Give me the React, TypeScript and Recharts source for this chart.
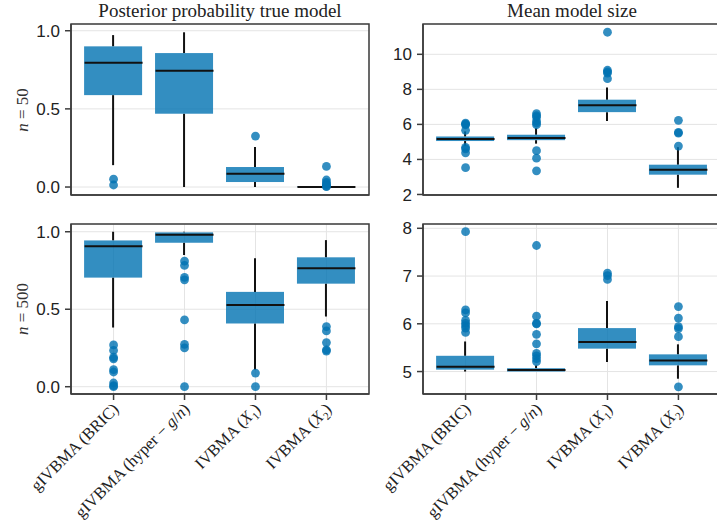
import { ComposedChart, Bar, Scatter, XAxis, YAxis, CartesianGrid, ReferenceArea } from 'recharts';

// categories sit at x = 1..4
const positions = [1, 2, 3, 4];
const xDomain: [number, number] = [0.4, 4.6];
const categoryLabels = [
  [{ t: 'gIVBMA (BRIC)' }],
  [{ t: 'gIVBMA (hyper − ' }, { t: 'g', i: true }, { t: '/' }, { t: 'n', i: true }, { t: ')' }],
  [{ t: 'IVBMA (' }, { t: 'X', i: true }, { t: '1', sub: true }, { t: ')' }],
  [{ t: 'IVBMA (' }, { t: 'X', i: true }, { t: '2', sub: true }, { t: ')' }],
];

// n = 50, posterior probability of the true model
const probLo50 = [0.14, 0.0, 0.0, 0.0];
const probQ1_50 = [0.588, 0.469, 0.032, 0.0];
const probMed50 = [0.795, 0.744, 0.085, 0.0];
const probQ3_50 = [0.9, 0.857, 0.128, 0.003];
const probHi50 = [0.972, 0.99, 0.256, 0.003];
const probOut50 = [[0.05, 0.013], [], [0.326], [0.132, 0.045, 0.03, 0.02, 0.013, 0.006, 0.002]];

// n = 50, mean model size
const sizeLo50 = [4.76, 4.9, 6.19, 2.38];
const sizeQ1_50 = [5.05, 5.1, 6.7, 3.13];
const sizeMed50 = [5.16, 5.22, 7.09, 3.41];
const sizeQ3_50 = [5.31, 5.41, 7.41, 3.7];
const sizeHi50 = [5.6, 5.79, 8.1, 4.7];
const sizeOut50 = [
  [6.07, 6.02, 5.98, 5.66, 4.69, 4.6, 4.38, 3.53],
  [6.61, 6.5, 6.42, 6.2, 6.08, 5.98, 4.5, 4.07, 3.35],
  [11.26, 9.09, 9.0, 8.93, 8.61],
  [6.23, 5.55, 5.5, 4.76],
];

// n = 500, posterior probability of the true model
const probLo500 = [0.382, 0.85, 0.11, 0.453];
const probQ1_500 = [0.704, 0.929, 0.408, 0.665];
const probMed500 = [0.906, 0.981, 0.528, 0.764];
const probQ3_500 = [0.944, 0.996, 0.612, 0.835];
const probHi500 = [1.0, 1.0, 0.829, 0.946];
const probOut500 = [
  [0.27, 0.234, 0.19, 0.18, 0.11, 0.095, 0.024, 0.007, 0.0],
  [0.811, 0.783, 0.706, 0.69, 0.431, 0.273, 0.25, 0.0],
  [0.088, 0.0],
  [0.388, 0.36, 0.285, 0.238, 0.23],
];

// n = 500, mean model size
const sizeLo500 = [5.0, 5.0, 5.2, 4.85];
const sizeQ1_500 = [5.04, 5.0, 5.48, 5.13];
const sizeMed500 = [5.1, 5.03, 5.62, 5.23];
const sizeQ3_500 = [5.33, 5.07, 5.91, 5.36];
const sizeHi500 = [5.63, 5.13, 6.48, 5.57];
const sizeOut500 = [
  [7.93, 6.29, 6.23, 6.07, 6.01, 5.96, 5.91, 5.82],
  [7.64, 6.16, 6.01, 6.0, 5.78, 5.58, 5.38, 5.33, 5.27, 5.21],
  [7.06, 7.01, 6.93],
  [6.36, 6.12, 5.94, 5.9, 5.73, 4.68],
];

const probTicks = [0, 0.5, 1.0];
const size50Ticks = [2, 4, 6, 8, 10];
const size500Ticks = [5, 6, 7, 8];

const BLUE = '#0072B2';
const FRAME = '#3d3d3d';
const GRID = '#e4e4e4';
const BOX_W = 58;
const SANS = '"Liberation Sans", Arial, sans-serif';
const SERIF = '"Liberation Serif", "Times New Roman", serif';

function buildRows(lo: number[], q1: number[], med: number[], q3: number[], hi: number[]) {
  return positions.map((x, i) => ({
    x,
    box: [q1[i], q3[i]],
    upper: [q3[i], hi[i]],
    lower: [lo[i], q1[i]],
    med: med[i],
  }));
}

function buildOutliers(out: number[][]) {
  return out.flatMap((vals, i) => vals.map((v) => ({ x: positions[i], v })));
}

const whiskerShape = (p: any) => {
  const cx = p.x + p.width / 2;
  return <line x1={cx} x2={cx} y1={p.y} y2={p.y + p.height} stroke="#111" strokeWidth={2} />;
};

const boxShape = (p: any) => (
  <rect
    x={p.x}
    y={Math.min(p.y, p.y + p.height)}
    width={p.width}
    height={Math.max(Math.abs(p.height), 0.5)}
    fill={BLUE}
    fillOpacity={0.8}
  />
);

const medianShape = (p: any) => (
  <line x1={p.cx - BOX_W / 2} x2={p.cx + BOX_W / 2} y1={p.cy} y2={p.cy} stroke="#111" strokeWidth={2} />
);

const dotShape = (p: any) => <circle cx={p.cx} cy={p.cy} r={4.4} fill={BLUE} fillOpacity={0.8} />;

function CategoryTick({ x, y, payload }: any) {
  const parts = categoryLabels[positions.indexOf(payload.value)] || [];
  return (
    <g transform={`translate(${x + 6},${y + 8}) rotate(-45)`}>
      <text textAnchor="end" fontFamily={SERIF} fontSize={16.5} fill="#222">
        {parts.map((p: any, k: number) => {
          const prevSub = k > 0 && (parts[k - 1] as any).sub;
          return (
            <tspan
              key={k}
              fontStyle={p.i ? 'italic' : 'normal'}
              fontSize={p.sub ? 11 : 16.5}
              dy={p.sub ? 4 : prevSub ? -4 : 0}
            >
              {p.t}
            </tspan>
          );
        })}
      </text>
    </g>
  );
}

type PanelProps = {
  rows: any[];
  outliers: any[];
  yDomain: [number, number];
  yTicks: number[];
  yFormat: (v: number) => string;
  yWidth: number;
  width: number;
  height: number;
  top: number;
  right: number;
  xHeight: number;
  showLabels: boolean;
};

function BoxPanel(props: PanelProps) {
  const { rows, outliers, yDomain, yTicks, yFormat, yWidth, width, height, top, right, xHeight, showLabels } = props;
  const line = { stroke: FRAME, strokeWidth: 1.5 };
  return (
    <ComposedChart
      width={width}
      height={height}
      data={rows}
      margin={{ top, right, bottom: 0, left: 0 }}
      barSize={BOX_W}
      barGap={-BOX_W}
    >
      <CartesianGrid stroke={GRID} strokeWidth={1} />
      <XAxis
        dataKey="x"
        type="number"
        domain={xDomain}
        ticks={positions}
        allowDataOverflow
        interval={0}
        height={xHeight}
        tickSize={6}
        tickLine={line}
        axisLine={line}
        tick={showLabels ? <CategoryTick /> : false}
      />
      <YAxis
        type="number"
        domain={yDomain}
        ticks={yTicks}
        allowDataOverflow
        interval={0}
        width={yWidth}
        tickSize={6}
        tickMargin={5}
        tickLine={line}
        axisLine={line}
        tickFormatter={yFormat}
        tick={{ fontFamily: SANS, fontSize: 17, fill: '#222' }}
      />
      <Bar dataKey="lower" shape={whiskerShape} isAnimationActive={false} />
      <Bar dataKey="upper" shape={whiskerShape} isAnimationActive={false} />
      <Bar dataKey="box" shape={boxShape} isAnimationActive={false} />
      <Scatter dataKey="med" shape={medianShape} isAnimationActive={false} />
      <Scatter data={outliers} dataKey="v" shape={dotShape} isAnimationActive={false} />
      {/* panel frame */}
      <ReferenceArea
        x1={xDomain[0]}
        x2={xDomain[1]}
        y1={yDomain[0]}
        y2={yDomain[1]}
        fill="none"
        stroke={FRAME}
        strokeWidth={1.5}
        ifOverflow="visible"
      />
    </ComposedChart>
  );
}

const probFmt = (v: number) => v.toFixed(1);
const intFmt = (v: number) => String(v);

export default function App() {
  const titleStyle: React.CSSProperties = {
    position: 'absolute',
    top: 0,
    width: 298,
    textAlign: 'center',
    fontFamily: SERIF,
    fontSize: 19,
    lineHeight: '22px',
    color: '#222',
  };
  const rowLabel = (cy: number): React.CSSProperties => ({
    position: 'absolute',
    left: -37,
    top: cy - 10,
    width: 120,
    height: 20,
    lineHeight: '20px',
    textAlign: 'center',
    transform: 'rotate(-90deg)',
    fontFamily: SERIF,
    fontSize: 17,
    color: '#333',
  });
  return (
    <div style={{ position: 'fixed', left: 0, top: 0, width: 717, height: 527, overflow: 'hidden', background: '#fff' }}>
      <div style={{ ...titleStyle, left: 71 }}>Posterior probability true model</div>
      <div style={{ ...titleStyle, left: 423 }}>Mean model size</div>
      <div style={rowLabel(109.5)}>
        <i>n</i> = 50
      </div>
      <div style={rowLabel(309)}>
        <i>n</i> = 500
      </div>

      <div style={{ position: 'absolute', left: 0, top: 0 }}>
        <BoxPanel
          rows={buildRows(probLo50, probQ1_50, probMed50, probQ3_50, probHi50)}
          outliers={buildOutliers(probOut50)}
          yDomain={[-0.051, 1.043]}
          yTicks={probTicks}
          yFormat={probFmt}
          yWidth={71}
          width={380}
          height={205}
          top={24}
          right={11}
          xHeight={10}
          showLabels={false}
        />
      </div>
      <div style={{ position: 'absolute', left: 380, top: 0 }}>
        <BoxPanel
          rows={buildRows(sizeLo50, sizeQ1_50, sizeMed50, sizeQ3_50, sizeHi50)}
          outliers={buildOutliers(sizeOut50)}
          yDomain={[1.97, 11.73]}
          yTicks={size50Ticks}
          yFormat={intFmt}
          yWidth={43}
          width={341}
          height={205}
          top={24}
          right={0}
          xHeight={10}
          showLabels={false}
        />
      </div>
      <div style={{ position: 'absolute', left: 0, top: 205 }}>
        <BoxPanel
          rows={buildRows(probLo500, probQ1_500, probMed500, probQ3_500, probHi500)}
          outliers={buildOutliers(probOut500)}
          yDomain={[-0.047, 1.05]}
          yTicks={probTicks}
          yFormat={probFmt}
          yWidth={71}
          width={380}
          height={322}
          top={19}
          right={11}
          xHeight={133}
          showLabels={true}
        />
      </div>
      <div style={{ position: 'absolute', left: 380, top: 205 }}>
        <BoxPanel
          rows={buildRows(sizeLo500, sizeQ1_500, sizeMed500, sizeQ3_500, sizeHi500)}
          outliers={buildOutliers(sizeOut500)}
          yDomain={[4.53, 8.09]}
          yTicks={size500Ticks}
          yFormat={intFmt}
          yWidth={43}
          width={341}
          height={322}
          top={19}
          right={0}
          xHeight={133}
          showLabels={true}
        />
      </div>
    </div>
  );
}
